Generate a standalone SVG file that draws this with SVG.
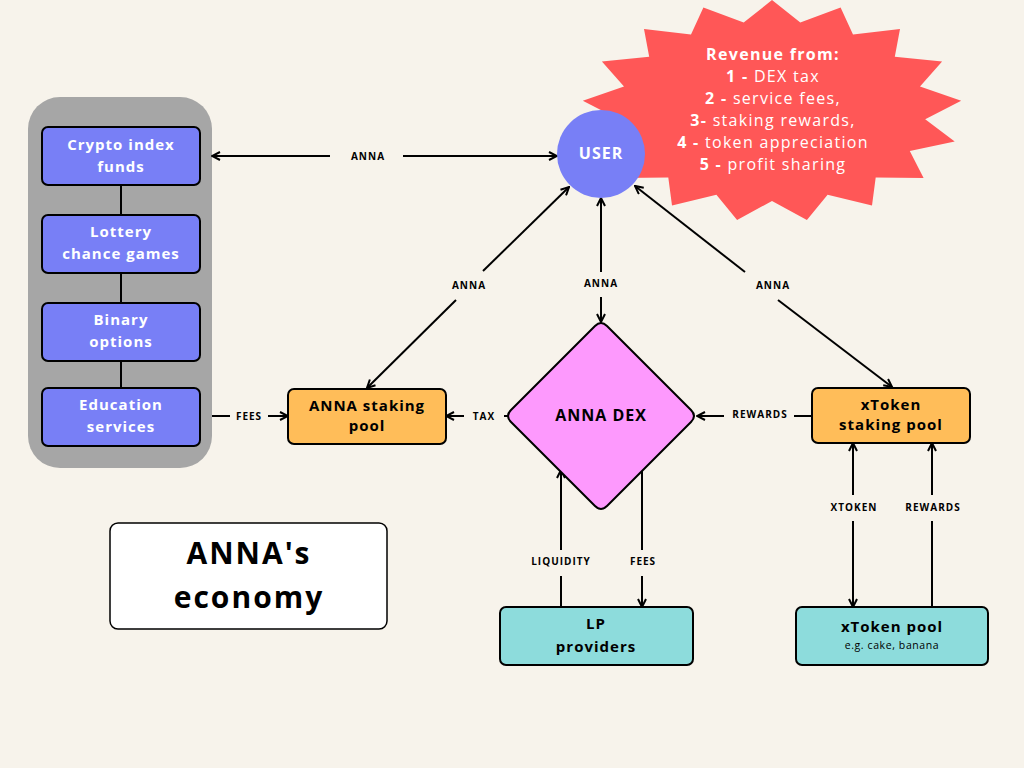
<svg xmlns="http://www.w3.org/2000/svg" width="1024" height="768" viewBox="0 0 1024 768">
<defs>
<marker id="ah" viewBox="0 0 10 10" refX="9" refY="5" markerWidth="10" markerHeight="10" markerUnits="userSpaceOnUse" orient="auto-start-reverse">
<path d="M1,1 L9,5 L1,9" fill="none" stroke="#000" stroke-width="2"/>
</marker>
<style>
.bx{stroke:#000;stroke-width:2}
.blue{fill:#787ff6}
.org{fill:#ffbd59}
.teal{fill:#8ddcdc}
.wt{font-family:"Open Sans","Liberation Sans",sans-serif;font-weight:700;font-size:15px;fill:#fff;text-anchor:middle;letter-spacing:1px}
.bt{font-family:"Open Sans","Liberation Sans",sans-serif;font-weight:700;font-size:15px;fill:#000;text-anchor:middle;letter-spacing:1px}
.lb{font-family:"Open Sans","Liberation Sans",sans-serif;font-weight:700;font-size:10px;fill:#000;text-anchor:middle;letter-spacing:1px}
.st{font-family:"Open Sans","Liberation Sans",sans-serif;font-size:16px;fill:#fff;text-anchor:middle;letter-spacing:1.3px}
.ln{stroke:#000;stroke-width:2;fill:none}
</style>
</defs>
<rect width="1024" height="768" fill="#f7f3eb"/>

<g id="revenue">
<polygon fill="#ff5757" points="772,0 800.3,22.6 840.6,7.5 853,34.6 900,29 894.8,56.8 942.1,61.5 920,86.4 961.2,100.8 925.2,119.3 954.7,141.4 909.8,151.1 923.6,177.9 875.7,177.4 872,205.4 827.6,194.8 806.9,220.1 772,200.9 737.1,220.1 716.4,194.8 672,205.4 668.3,177.4 620.4,177.9 634.2,151.1 589.3,141.4 618.8,119.3 582.8,100.8 624,86.4 601.9,61.5 649.2,56.8 644,29 691,34.6 703.4,7.5 743.7,22.6"/>
<text class="st" x="773" y="60" font-weight="700">Revenue from:</text>
<text class="st" x="773" y="82"><tspan font-weight="700">1 -</tspan> DEX tax</text>
<text class="st" x="773" y="104"><tspan font-weight="700">2 -</tspan> service fees,</text>
<text class="st" x="773" y="126"><tspan font-weight="700">3-</tspan> staking rewards,</text>
<text class="st" x="773" y="148"><tspan font-weight="700">4 -</tspan> token appreciation</text>
<text class="st" x="773" y="170"><tspan font-weight="700">5 -</tspan> profit sharing</text>
</g>

<g id="services">
<rect x="28" y="97" width="184" height="371" rx="32" fill="#a6a6a6"/>
</g>

<g id="connectors">
<line class="ln" x1="121" y1="185" x2="121" y2="215"/>
<line class="ln" x1="121" y1="273" x2="121" y2="303"/>
<line class="ln" x1="121" y1="361" x2="121" y2="388"/>
<line class="ln" x1="330" y1="156" x2="212" y2="156" marker-end="url(#ah)"/>
<line class="ln" x1="403" y1="156" x2="557" y2="156" marker-end="url(#ah)"/>
<text class="lb" x="368" y="160">ANNA</text>
<line class="ln" x1="483" y1="271" x2="569" y2="187" marker-end="url(#ah)"/>
<line class="ln" x1="456" y1="300" x2="367" y2="388" marker-end="url(#ah)"/>
<text class="lb" x="469" y="289">ANNA</text>
<line class="ln" x1="601" y1="272" x2="601" y2="198" marker-end="url(#ah)"/>
<line class="ln" x1="601" y1="297" x2="601" y2="322" marker-end="url(#ah)"/>
<text class="lb" x="601" y="287">ANNA</text>
<line class="ln" x1="745" y1="272" x2="635" y2="186" marker-end="url(#ah)"/>
<line class="ln" x1="778" y1="300" x2="892" y2="387" marker-end="url(#ah)"/>
<text class="lb" x="773" y="289">ANNA</text>
<line class="ln" x1="212" y1="416" x2="230" y2="416"/>
<line class="ln" x1="268" y1="416" x2="288" y2="416" marker-end="url(#ah)"/>
<text class="lb" x="249" y="420">FEES</text>
<line class="ln" x1="508" y1="416" x2="504" y2="416"/>
<line class="ln" x1="464" y1="416" x2="446" y2="416" marker-end="url(#ah)"/>
<text class="lb" x="484" y="420">TAX</text>
<line class="ln" x1="812" y1="416" x2="794" y2="416"/>
<line class="ln" x1="724" y1="416" x2="697" y2="416" marker-end="url(#ah)"/>
<text class="lb" x="760" y="418">REWARDS</text>
<line class="ln" x1="561" y1="607" x2="561" y2="576"/>
<line class="ln" x1="561" y1="550" x2="561" y2="470" marker-end="url(#ah)"/>
<text class="lb" x="561" y="565">LIQUIDITY</text>
<line class="ln" x1="642" y1="469" x2="642" y2="550"/>
<line class="ln" x1="642" y1="576" x2="642" y2="607" marker-end="url(#ah)"/>
<text class="lb" x="643" y="565">FEES</text>
<line class="ln" x1="853" y1="495" x2="853" y2="443" marker-end="url(#ah)"/>
<line class="ln" x1="853" y1="521" x2="853" y2="607" marker-end="url(#ah)"/>
<text class="lb" x="854" y="511">XTOKEN</text>
<line class="ln" x1="932" y1="607" x2="932" y2="521"/>
<line class="ln" x1="932" y1="495" x2="932" y2="443" marker-end="url(#ah)"/>
<text class="lb" x="933" y="511">REWARDS</text>
</g>

<g id="crypto-index-funds">
<rect class="bx blue" x="42" y="127" width="158" height="58" rx="6"/>
<text class="wt" x="121" y="150">Crypto index</text>
<text class="wt" x="121" y="172">funds</text>
</g>
<g id="lottery">
<rect class="bx blue" x="42" y="215" width="158" height="58" rx="6"/>
<text class="wt" x="121" y="237">Lottery</text>
<text class="wt" x="121" y="259">chance games</text>
</g>
<g id="binary-options">
<rect class="bx blue" x="42" y="303" width="158" height="58" rx="6"/>
<text class="wt" x="121" y="325">Binary</text>
<text class="wt" x="121" y="347">options</text>
</g>
<g id="education">
<rect class="bx blue" x="42" y="388" width="158" height="58" rx="6"/>
<text class="wt" x="121" y="410">Education</text>
<text class="wt" x="121" y="432">services</text>
</g>

<g id="user">
<circle cx="601" cy="154" r="44" fill="#787ff6"/>
<text class="bt" x="601" y="159" style="fill:#fff;font-size:16px">USER</text>
</g>

<g id="anna-staking-pool">
<rect class="bx org" x="288" y="389" width="158" height="55" rx="6"/>
<text class="bt" x="367" y="411">ANNA staking</text>
<text class="bt" x="367" y="431">pool</text>
</g>

<g id="anna-dex">
<path d="M595,326 Q601,320 607,326 L691,410 Q697,416 691,422 L607,506 Q601,512 595,506 L511,422 Q505,416 511,410 Z" fill="#fd99fd" stroke="#000" stroke-width="2"/>
<text class="bt" x="601" y="421" style="font-size:16px">ANNA DEX</text>
</g>

<g id="xtoken-staking-pool">
<rect class="bx org" x="812" y="388" width="158" height="55" rx="6"/>
<text class="bt" x="891" y="410">xToken</text>
<text class="bt" x="891" y="430">staking pool</text>
</g>

<g id="lp-providers">
<rect class="bx teal" x="500" y="607" width="193" height="58" rx="6"/>
<text class="bt" x="596" y="629">LP</text>
<text class="bt" x="596" y="652">providers</text>
</g>

<g id="xtoken-pool">
<rect class="bx teal" x="796" y="607" width="192" height="58" rx="6"/>
<text class="bt" x="892" y="632">xToken pool</text>
<text x="892" y="649" font-family="Open Sans, Liberation Sans, sans-serif" font-size="10.5" fill="#000" text-anchor="middle" letter-spacing="0.6">e.g. cake, banana</text>
</g>

<g id="title">
<rect x="110" y="523" width="277" height="106" rx="8" fill="#fff" stroke="#000" stroke-width="1.5"/>
<text x="249" y="564" font-family="Open Sans, Liberation Sans, sans-serif" font-weight="700" font-size="30" text-anchor="middle" letter-spacing="2">ANNA's</text>
<text x="249" y="608" font-family="Open Sans, Liberation Sans, sans-serif" font-weight="700" font-size="30" text-anchor="middle" letter-spacing="2">economy</text>
</g>
</svg>
